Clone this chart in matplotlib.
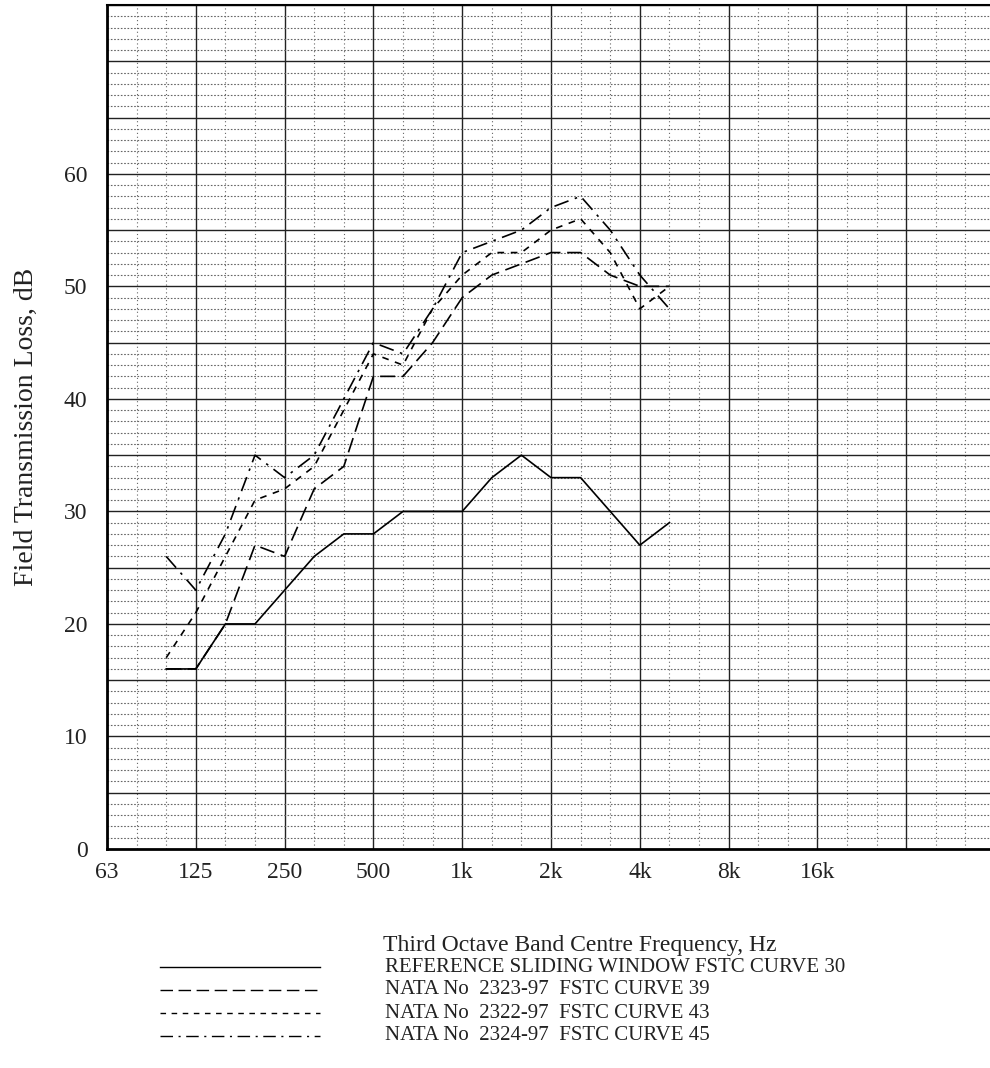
import matplotlib
matplotlib.use("Agg")
import matplotlib.pyplot as plt
from matplotlib.lines import Line2D
import numpy as np

# third-octave band axis (63 Hz ... 16k, then unlabelled columns)
BANDS = ["63", "80", "100", "125", "160", "200", "250", "315", "400", "500",
         "630", "800", "1k", "1.25k", "1.6k", "2k", "2.5k", "3.15k", "4k", "5k",
         "6.3k", "8k", "10k", "12.5k", "16k", "20k", "25k", "31.5k", "40k", "50k"]
OCTAVE_LABELS = ["63", "125", "250", "500", "1k", "2k", "4k", "8k", "16k"]

MEAS_BANDS = ["100", "125", "160", "200", "250", "315", "400", "500", "630",
              "800", "1k", "1.25k", "1.6k", "2k", "2.5k", "3.15k", "4k", "5k"]

ref_fstc30 = [16, 16, 20, 20, 23, 26, 28, 28, 30, 30, 30, 33, 35, 33, 33, 30, 27, 29]
nata_2323 = [16, 16, 20, 27, 26, 32, 34, 42, 42, 45, 49, 51, 52, 53, 53, 51, 50, 50]
nata_2322 = [17, 21, 26, 31, 32, 34, 39, 44, 43, 48, 51, 53, 53, 55, 56, 53, 48, 50]
nata_2324 = [26, 23, 28, 35, 33, 35, 40, 45, 44, 48, 53, 54, 55, 57, 58, 55, 51, 48]

SERIES = [
    ("REFERENCE SLIDING WINDOW FSTC CURVE 30", ref_fstc30, "-"),
    ("NATA No  2323-97  FSTC CURVE 39", nata_2323, (0, (9, 4))),
    ("NATA No  2322-97  FSTC CURVE 43", nata_2322, (0, (4, 4))),
    ("NATA No  2324-97  FSTC CURVE 45", nata_2324, (0, (9, 4, 1.5, 4))),
]

TEXT = "#222222"
plt.rcParams["font.family"] = ["Liberation Serif", "DejaVu Serif"]

W, H = 990, 1068
fig = plt.figure(figsize=(W / 100, H / 100), dpi=100)
ax = fig.add_axes([107 / W, 1 - 849 / H, (990 - 107) / W, (849 - 5) / H])

x = np.array([BANDS.index(b) for b in MEAS_BANDS])
for label, vals, ls in SERIES:
    ax.plot(x, vals, color="black", linewidth=1.2, linestyle=ls, zorder=3)

ax.set_xlim(0, 29.83)
ax.set_ylim(0, 75)

# grid: octaves / 5 dB solid, third-octaves / 1 dB dotted
for i in range(len(BANDS)):
    if i % 3 == 0:
        ax.axvline(i, color="#222222", linewidth=1.0, zorder=1)
    else:
        ax.axvline(i, color="#666666", linewidth=0.8, linestyle=(0, (1, 2.5)), zorder=1)
for v in range(1, 76):
    if v % 5 == 0:
        ax.axhline(v, color="#222222", linewidth=1.0, zorder=1)
    else:
        ax.axhline(v, color="#666666", linewidth=0.8, linestyle=(0, (1.5, 1.5)), zorder=1)

ax.set_xticks([BANDS.index(b) for b in OCTAVE_LABELS])
ax.set_xticklabels(OCTAVE_LABELS)
ax.set_yticks(range(0, 61, 10))
ax.tick_params(length=0, labelsize=17, pad=9, labelcolor=TEXT)
ax.tick_params(axis="y", pad=14)

for side, lw in [("left", 2.0), ("bottom", 2.0), ("top", 1.5), ("right", 0)]:
    ax.spines[side].set_linewidth(lw)

ax.set_ylabel("Field Transmission Loss, dB", fontsize=20, labelpad=18, color=TEXT)

# x caption and legend beneath the plot
fig.text(580 / W, 1 - 946 / H, "Third Octave Band Centre Frequency, Hz",
         ha="center", va="center", fontsize=17, color=TEXT)
rows = [967, 990, 1013, 1036]
for (label, vals, ls), yy in zip(SERIES, rows):
    yf = 1 - yy / H
    fig.add_artist(Line2D([160 / W, 320 / W], [yf, yf], transform=fig.transFigure,
                          color="black", linewidth=1.0, linestyle=ls))
    fig.text(385 / W, yf, label, ha="left", va="center", fontsize=15, color=TEXT)

fig.savefig("out.png", dpi=100)
